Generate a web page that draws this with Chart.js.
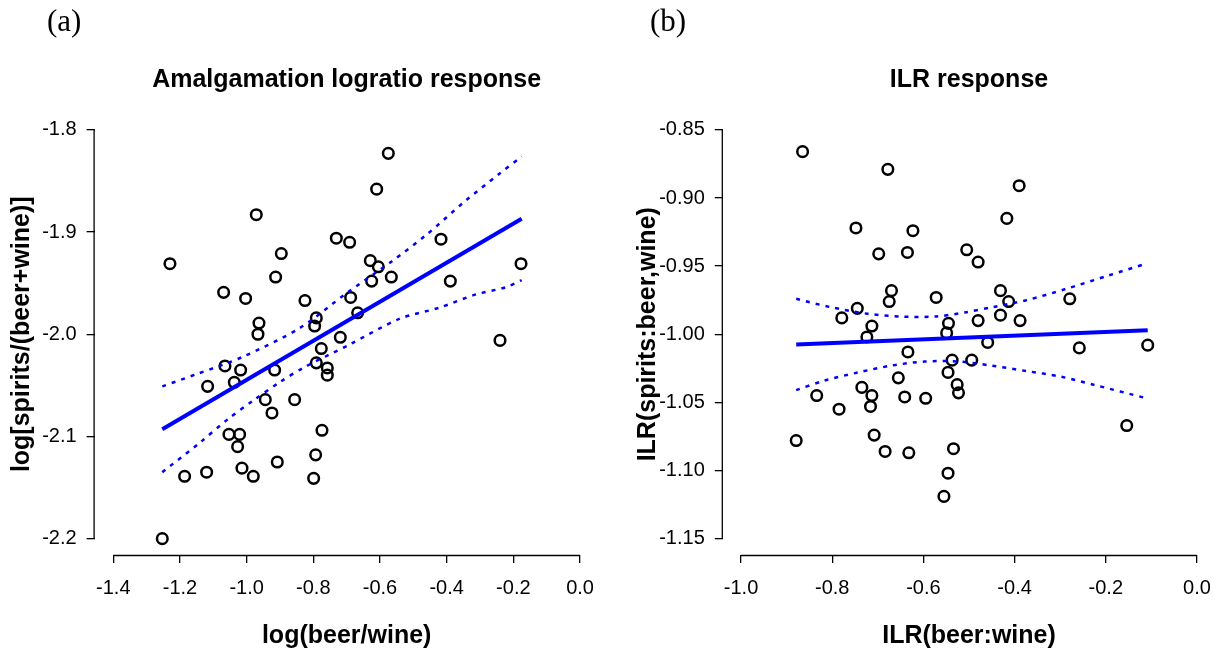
<!DOCTYPE html>
<html>
<head>
<meta charset="utf-8">
<script src="https://cdn.jsdelivr.net/npm/chart.js@4.4.1/dist/chart.umd.min.js"></script>
<style>
    body { margin: 0; background: #fff; }
    #wrap { position: relative; width: 1228px; height: 655px; overflow: hidden; }
    .panel { position: absolute; top: 0; width: 614px; height: 655px; }
    .tag { position: absolute; top: 3px; font-family: "Liberation Serif", "Times New Roman", serif; font-size: 31px; color: #000; }
</style>
</head>
<body>
<div id="wrap">
    <div class="panel" style="left:0"><canvas id="chart-a" width="614" height="655"></canvas></div>
    <div class="panel" style="left:614px"><canvas id="chart-b" width="614" height="655"></canvas></div>
    <div class="tag" style="left:47px">(a)</div>
    <div class="tag" style="left:650px">(b)</div>
</div>
<script>
// (a) amalgamation logratio response
const aX = [-0.971, -0.896, -1.230, -0.913, -1.069, -1.003, -0.825, -0.791, -0.796, -0.963,
            -0.966, -0.575, -0.610, -0.731, -0.691, -0.417, -0.629, -0.605, -0.566, -0.625,
            -0.389, -0.177, -0.688, -0.667, -0.719, -0.240, -0.776, -1.065, -1.018, -0.916,
            -0.791, -1.117, -1.037, -0.944, -0.856, -0.924, -0.774, -1.053, -1.021, -1.027,
            -0.793, -0.908, -1.014, -1.120, -1.186, -0.980, -0.799, -1.253, -0.758, -0.758];
const aY = [-1.883, -1.921, -1.931, -1.944, -1.959, -1.965, -1.967, -1.984, -1.992, -1.989,
            -2.000, -1.823, -1.858, -1.906, -1.910, -1.907, -1.928, -1.934, -1.944, -1.948,
            -1.948, -1.931, -1.964, -1.979, -2.003, -2.006, -2.014, -2.031, -2.035, -2.035,
            -2.028, -2.051, -2.047, -2.064, -2.064, -2.077, -2.094, -2.098, -2.098, -2.110,
            -2.118, -2.125, -2.131, -2.135, -2.139, -2.139, -2.141, -2.200, -2.033, -2.040];
const aFitX = [-1.253, -0.175];
const aFitY = [-2.093, -1.887];
const aUpX = [-1.253, -1.150, -1.011, -0.841, -0.701, -0.562, -0.462, -0.342, -0.242, -0.175];
const aUpY = [-2.051, -2.039, -2.022, -1.994, -1.960, -1.928, -1.903, -1.869, -1.843, -1.826];
const aLoX = [-1.253, -1.140, -1.056, -0.981, -0.901, -0.831, -0.691, -0.542, -0.422, -0.312, -0.222, -0.175];
const aLoY = [-2.135, -2.106, -2.083, -2.065, -2.047, -2.033, -2.010, -1.985, -1.974, -1.961, -1.954, -1.947];
const aXTicks = [-1.4, -1.2, -1.0, -0.8, -0.6, -0.4, -0.2, 0.0];
const aYTicks = [-2.2, -2.1, -2.0, -1.9, -1.8];

// (b) ILR response
const bX = [-0.865, -0.678, -0.748, -0.623, -0.698, -0.635, -0.505, -0.480, -0.670, -0.675,
            -0.572, -0.745, -0.779, -0.713, -0.545, -0.480, -0.390, -0.417, -0.431, -0.413,
            -0.279, -0.431, -0.388, -0.724, -0.549, -0.634, -0.537, -0.494, -0.655, -0.546,
            -0.526, -0.523, -0.735, -0.713, -0.834, -0.641, -0.595, -0.716, -0.785, -0.879,
            -0.708, -0.684, -0.632, -0.534, -0.546, -0.555, -0.459, -0.258, -0.108, -0.154];
const bY = [-0.866, -0.879, -0.922, -0.924, -0.941, -0.940, -0.938, -0.947, -0.968, -0.976,
            -0.973, -0.981, -0.988, -0.994, -0.992, -0.990, -0.891, -0.915, -0.968, -0.976,
            -0.974, -0.986, -0.990, -1.002, -0.999, -1.013, -1.019, -1.019, -1.032, -1.028,
            -1.037, -1.043, -1.039, -1.045, -1.045, -1.046, -1.047, -1.053, -1.055, -1.078,
            -1.074, -1.086, -1.087, -1.084, -1.102, -1.119, -1.006, -1.010, -1.008, -1.067];
const bFitX = [-0.879, -0.108];
const bFitY = [-1.0076, -0.997];
const bUpX = [-0.879, -0.805, -0.722, -0.649, -0.574, -0.509, -0.447, -0.374, -0.290, -0.195, -0.110];
const bUpY = [-0.974, -0.980, -0.985, -0.987, -0.987, -0.984, -0.980, -0.975, -0.967, -0.957, -0.948];
const bLoX = [-0.879, -0.817, -0.743, -0.670, -0.597, -0.524, -0.451, -0.374, -0.300, -0.227, -0.110];
const bLoY = [-1.041, -1.034, -1.028, -1.023, -1.020, -1.020, -1.023, -1.027, -1.031, -1.037, -1.047];
const bXTicks = [-1.0, -0.8, -0.6, -0.4, -0.2, 0.0];
const bYTicks = [-1.15, -1.10, -1.05, -1.00, -0.95, -0.90, -0.85];

const FONT = '"Liberation Sans", Arial, Helvetica, sans-serif';
const BLUE = '#0000ff';

const pairs = (xs, ys) => xs.map((x, i) => ({ x: x, y: ys[i] }));

// R style axes: the line only runs from the first to the last tick
const rAxes = {
    id: 'rAxes',
    afterDraw(chart) {
        const { ctx, chartArea, scales: { x, y } } = chart;
        const xt = x.ticks, yt = y.ticks;
        ctx.save();
        ctx.strokeStyle = '#000';
        ctx.lineWidth = 1.3;
        ctx.beginPath();
        ctx.moveTo(x.getPixelForValue(xt[0].value), chartArea.bottom + 0.5);
        ctx.lineTo(x.getPixelForValue(xt[xt.length - 1].value), chartArea.bottom + 0.5);
        ctx.moveTo(chartArea.left - 0.5, y.getPixelForValue(yt[0].value));
        ctx.lineTo(chartArea.left - 0.5, y.getPixelForValue(yt[yt.length - 1].value));
        ctx.stroke();
        ctx.restore();
    }
};

function buildChart(id, s) {
    new Chart(document.getElementById(id), {
        type: 'scatter',
        data: {
            datasets: [
                {
                    data: pairs(s.fitX, s.fitY), showLine: true, pointRadius: 0,
                    borderColor: BLUE, borderWidth: 4, order: 1
                },
                {
                    data: pairs(s.upX, s.upY), showLine: true, pointRadius: 0, tension: 0.3,
                    borderColor: BLUE, borderWidth: 2.5, borderDash: [4, 6], order: 1
                },
                {
                    data: pairs(s.loX, s.loY), showLine: true, pointRadius: 0, tension: 0.3,
                    borderColor: BLUE, borderWidth: 2.5, borderDash: [4, 6], order: 1
                },
                {
                    data: pairs(s.x, s.y), pointRadius: 5.3, pointStyle: 'circle',
                    backgroundColor: 'rgba(0,0,0,0)', borderColor: '#000', borderWidth: 2.5, order: 2
                }
            ]
        },
        options: {
            responsive: false,
            animation: false,
            devicePixelRatio: 1,
            layout: { padding: { left: 0, right: s.padRight, top: 0, bottom: 0 } },
            plugins: {
                legend: { display: false },
                tooltip: { enabled: false },
                title: {
                    display: true,
                    text: s.title,
                    fullSize: false,
                    color: '#000',
                    font: { family: FONT, size: 25, weight: 'bold' },
                    padding: { top: 65, bottom: 18.5 }
                }
            },
            scales: {
                x: {
                    type: 'linear',
                    min: s.xMin, max: s.xMax,
                    afterBuildTicks: sc => { sc.ticks = s.xTicks.map(v => ({ value: v })); },
                    afterFit: sc => { sc.height = 100; },
                    grid: { drawOnChartArea: false, drawTicks: true, tickLength: 8, color: '#000', lineWidth: 1.3 },
                    border: { display: false },
                    ticks: {
                        autoSkip: false, maxRotation: 0, padding: 13, color: '#000',
                        font: { family: FONT, size: 20 },
                        callback: v => v.toFixed(s.xDec)
                    },
                    title: {
                        display: true, text: s.xTitle, color: '#000',
                        font: { family: FONT, size: 25, weight: 'bold' },
                        padding: { top: 0, bottom: 4 }
                    }
                },
                y: {
                    type: 'linear',
                    min: s.yMin, max: s.yMax,
                    afterBuildTicks: sc => { sc.ticks = s.yTicks.map(v => ({ value: v })); },
                    afterFit: sc => { sc.width = s.yWidth; },
                    grid: { drawOnChartArea: false, drawTicks: true, tickLength: 8, color: '#000', lineWidth: 1.3 },
                    border: { display: false },
                    ticks: {
                        autoSkip: false, padding: 10, color: '#000',
                        font: { family: FONT, size: 20 },
                        callback: v => v.toFixed(s.yDec)
                    },
                    title: {
                        display: true, text: s.yTitle, color: '#000',
                        font: { family: FONT, size: 25, weight: 'bold' },
                        padding: { top: s.yTitlePad, bottom: 0 }
                    }
                }
            }
        },
        plugins: [rAxes]
    });
}

buildChart('chart-a', {
    title: 'Amalgamation logratio response',
    xTitle: 'log(beer/wine)', yTitle: 'log[spirits/(beer+wine)]',
    x: aX, y: aY, fitX: aFitX, fitY: aFitY, upX: aUpX, upY: aUpY, loX: aLoX, loY: aLoY,
    xTicks: aXTicks, yTicks: aYTicks, xDec: 1, yDec: 1,
    xMin: -1.456, xMax: 0.056, yMin: -2.216, yMax: -1.784,
    yWidth: 94.6, padRight: 15.3, yTitlePad: 7
});

buildChart('chart-b', {
    title: 'ILR response',
    xTitle: 'ILR(beer:wine)', yTitle: 'ILR(spirits:beer,wine)',
    x: bX, y: bY, fitX: bFitX, fitY: bFitY, upX: bUpX, upY: bUpY, loX: bLoX, loY: bLoY,
    xTicks: bXTicks, yTicks: bYTicks, xDec: 1, yDec: 2,
    xMin: -1.04, xMax: 0.04, yMin: -1.162, yMax: -0.838,
    yWidth: 108.8, padRight: 12.8, yTitlePad: 19
});
</script>
</body>
</html>
